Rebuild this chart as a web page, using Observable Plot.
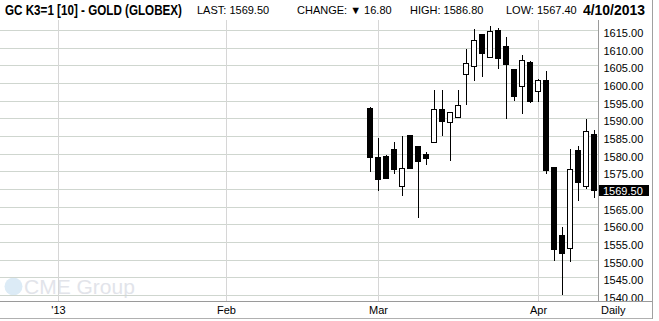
<!DOCTYPE html>
<html><head><meta charset="utf-8">
<script src="https://cdn.jsdelivr.net/npm/d3@7"></script>
<script src="https://cdn.jsdelivr.net/npm/@observablehq/plot@0.6"></script>
<style>
body{margin:0;background:#fff;font-family:"Liberation Sans",Arial,sans-serif;}
#wrap{position:relative;width:659px;height:321px;overflow:hidden;background:#fff;}
#head{position:absolute;left:0;top:0;width:659px;height:20px;}
#head span{position:absolute;white-space:nowrap;color:#000;transform-origin:0 50%;}
#chart{position:absolute;left:0;top:20px;}
#chart svg line,#chart svg rect{shape-rendering:crispEdges;}
#rborder{position:absolute;left:652px;top:0;width:1px;height:319px;background:#a0a0a0;}
</style></head><body>
<div id="wrap">
  <div id="head"></div>
  <div id="chart"></div>
  <div id="rborder"></div>
</div>
<script>
// ---- data ----
const dates = ["2013-02-28","2013-03-01","2013-03-04","2013-03-05","2013-03-06","2013-03-07","2013-03-08",
  "2013-03-11","2013-03-12","2013-03-13","2013-03-14","2013-03-15","2013-03-18","2013-03-19","2013-03-20",
  "2013-03-21","2013-03-22","2013-03-25","2013-03-26","2013-03-27","2013-03-28","2013-04-01","2013-04-02",
  "2013-04-03","2013-04-04","2013-04-05","2013-04-08","2013-04-09","2013-04-10"];
const open  = [1593.0,1579.1,1579.3,1581.3,1570.8,1585.3,1582.2,1579.9,1583.1,1592.5,1588.9,1590.3,1602.5,1604.7,1613.8,1607.3,1615.0,1610.5,1604.0,1599.1,1605.9,1597.7,1600.8,1576.2,1557.0,1553.1,1581.0,1570.8,1585.6];
const high  = [1593.3,1584.3,1579.6,1583.2,1585.0,1585.3,1582.2,1580.5,1598.0,1598.0,1591.7,1598.0,1609.6,1615.2,1613.8,1616.1,1615.5,1613.0,1604.0,1607.9,1606.1,1601.1,1603.4,1576.2,1559.2,1581.3,1582.2,1589.8,1586.8];
const low   = [1574.9,1569.5,1572.7,1574.2,1568.1,1575.8,1561.9,1576.8,1583.1,1585.0,1577.9,1590.3,1593.9,1600.7,1601.8,1607.3,1603.9,1589.9,1594.8,1591.3,1594.2,1594.7,1574.2,1549.5,1540.1,1549.2,1566.7,1570.1,1567.4];
const close = [1578.7,1572.5,1572.9,1575.5,1575.8,1575.8,1577.5,1578.6,1592.5,1589.1,1591.7,1593.7,1605.6,1612.1,1608.1,1614.6,1606.7,1605.0,1596.1,1606.4,1594.7,1600.6,1575.2,1552.8,1551.7,1575.6,1571.8,1586.4,1569.5];
const monthTickDates  = ["2013-01-02","2013-02-01","2013-03-01","2013-04-01"];
const monthTickLabels = ["'13","Feb","Mar","Apr"];
const holidays = ["2013-01-21","2013-02-18","2013-03-29"];
const priceTicks = [1540,1545,1550,1555,1560,1565,1570,1575,1580,1585,1590,1595,1600,1605,1610,1615];
const hiddenLabel = 1570;
const lastPrice = 1569.50;
const headerTitle = "GC K3=1 [10] - GOLD (GLOBEX)";
const headerLast = "LAST: 1569.50";
const headerChange = "CHANGE: \u25BC 16.80";
const headerHigh = "HIGH: 1586.80";
const headerLow = "LOW: 1567.40";
const headerDate = "4/10/2013";
const periodLabel = "Daily";
const logoText = "CME Group";

// ---- helpers ----
function tradingIndex(s){
  const d = new Date("2013-01-02T00:00:00Z"), end = new Date(s+"T00:00:00Z");
  let n = 0;
  while (d < end) {
    const wd = d.getUTCDay(), iso = d.toISOString().slice(0,10);
    if (wd !== 0 && wd !== 6 && !holidays.includes(iso)) n++;
    d.setUTCDate(d.getUTCDate()+1);
  }
  return n;
}
const candles = dates.map((d,i)=>({t:tradingIndex(d),o:open[i],h:high[i],l:low[i],c:close[i],up:close[i]>=open[i]}));
const monthIdx = monthTickDates.map(tradingIndex);
const black = candles.filter(d=>!d.up), white = candles.filter(d=>d.up);

// ---- header ----
const head = document.getElementById("head");
function addSpan(text, left, top, size, bold, fitWidth){
  const s = document.createElement("span");
  s.textContent = text;
  s.style.left = left+"px"; s.style.top = top+"px";
  s.style.fontSize = size+"px"; s.style.fontWeight = bold ? "bold" : "normal";
  head.appendChild(s);
  if (fitWidth){ const w = s.getBoundingClientRect().width; s.style.transform = `scaleX(${fitWidth/w})`; }
  return s;
}
addSpan(headerTitle, 5, 2, 14, true, 177);
addSpan(headerLast, 197, 4, 11, false);
addSpan(headerChange, 297, 4, 11, false);
addSpan(headerHigh, 410, 4, 11, false);
addSpan(headerLow, 506, 4, 11, false);
addSpan(headerDate, 583, 2, 14, true, 62);

// ---- chart ----
const chart = Plot.plot({
  width: 659, height: 301,
  marginLeft: 0, marginRight: 61, marginTop: 0, marginBottom: 20,
  style: {fontFamily: "Liberation Sans, Arial, sans-serif", fontSize: "11px", background: "transparent"},
  x: {type: "linear", domain: [-7.25, 67.5], axis: null},
  y: {domain: [1538.3, 1617.83], axis: null},
  marks: [
    Plot.ruleY(priceTicks, {stroke: "#cfd6cf", strokeWidth: 1}),
    Plot.ruleX(monthIdx, {stroke: "#d6d6d6", strokeWidth: 1}),
    Plot.ruleX(candles, {x: "t", y1: "l", y2: "h", stroke: "#000", strokeWidth: 1}),
    Plot.rect(black, {x1: d=>d.t-0.375, x2: d=>d.t+0.375, y1: "o", y2: "c", fill: "#000", dx: -0.5}),
    Plot.rect(white, {x1: d=>d.t-0.3125, x2: d=>d.t+0.3125, y1: "o", y2: "c", fill: "#fff", stroke: "#000", strokeWidth: 1, dx: -0.5}),
    Plot.text(priceTicks.filter(v=>v!==hiddenLabel), {y: d=>d, text: d=>d.toFixed(2), frameAnchor: "right", dx: 5, dy: 3, textAnchor: "start", fill: "#000", fontSize: 11}),
    Plot.text(monthIdx, {x: d=>d, text: (d,i)=>monthTickLabels[i], frameAnchor: "bottom", dy: 12, fill: "#000", fontSize: 11}),
    Plot.text([periodLabel], {text: d=>d, frameAnchor: "bottom-right", dx: 27, dy: 12, fill: "#000", fontSize: 11})
  ]
});
document.getElementById("chart").appendChild(chart);

// ---- frame decorations & last-price box via the plot's scale ----
const svg = d3.select(chart);
const yS = chart.scale("y");
const yb = 281.5;
svg.append("line").attr("x1",0).attr("x2",652).attr("y1",yb).attr("y2",yb).attr("stroke","#9a9a9a");
svg.append("line").attr("x1",0).attr("x2",652).attr("y1",298.5).attr("y2",298.5).attr("stroke","#b0b0b0");
svg.append("line").attr("x1",598.5).attr("x2",598.5).attr("y1",0).attr("y2",yb).attr("stroke","#9a9a9a");
const ly = yS.apply(lastPrice);
svg.append("rect").attr("x",599).attr("y",Math.round(ly-5.5)).attr("width",50).attr("height",11).attr("fill","#000");
svg.append("text").attr("x",603).attr("y",ly+4).attr("text-anchor","start").attr("fill","#fff").attr("font-size",11).text(lastPrice.toFixed(2));
// watermark logo
const logo = svg.insert("g", ":first-child");
logo.append("circle").attr("cx",13.5).attr("cy",266.5).attr("r",9).attr("fill","#dcebf6");
logo.append("text").attr("x",24).attr("y",274).attr("text-anchor","start").attr("font-size",21).attr("fill","#e2e4ea").text(logoText);
</script>
</body></html>
